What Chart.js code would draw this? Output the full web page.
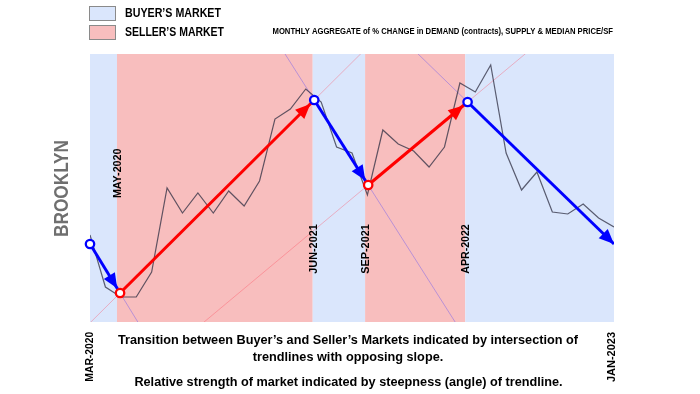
<!DOCTYPE html>
<html><head><meta charset="utf-8">
<script src="https://cdn.jsdelivr.net/npm/chart.js@4"></script>
<style>html,body{margin:0;padding:0;background:#fff}canvas{display:block}</style>
</head><body>
<canvas id="c" width="700" height="394"></canvas>
<script>
// ---- DATA ----
const months = ['MAR-2020','APR-2020','MAY-2020','JUN-2020','JUL-2020','AUG-2020','SEP-2020','OCT-2020','NOV-2020','DEC-2020',
  'JAN-2021','FEB-2021','MAR-2021','APR-2021','MAY-2021','JUN-2021','JUL-2021','AUG-2021','SEP-2021','OCT-2021','NOV-2021','DEC-2021',
  'JAN-2022','FEB-2022','MAR-2022','APR-2022','MAY-2022','JUN-2022','JUL-2022','AUG-2022','SEP-2022','OCT-2022','NOV-2022','DEC-2022',
  'JAN-2023'];
const aggregateIndex = [87,35,25,25,50,134,109,129,109,131,116,141,203,213,233,220,175,169,127,192,178,171,155,175,239,230,257,169,132,150,110,108,118,104,95];
const trendMonths = [0, 1.95, 14.55, 18.05, 24.5, 34];
const trendValues = [78, 29, 222, 137, 220, 78];
const trendMarkets = ['buyer','seller','buyer','seller','buyer'];
const transitionMonths = [1.75, 14.45, 17.85, 24.35];
const transitionLabels = ['MAY-2020','JUN-2021','SEP-2021','APR-2022'];
const edgeLabels = ['MAR-2020','JAN-2023'];
const legendLabels = {buyer:'BUYER\u2019S MARKET', seller:'SELLER\u2019S MARKET'};
const titleText = 'MONTHLY AGGREGATE of % CHANGE in DEMAND (contracts), SUPPLY & MEDIAN PRICE/SF';
const sideTitle = 'BROOKLYN';
const noteLines = ['Transition between Buyer\u2019s and Seller\u2019s Markets indicated by intersection of','trendlines with opposing slope.','Relative strength of market indicated by steepness (angle) of trendline.'];

// ---- STYLE ----
const FONT = '"Liberation Sans", Arial, sans-serif';
const arrowColors = {buyer:'#0000ff', seller:'#ff0000'};
const bandColors = {buyer:'rgb(218,230,252)', seller:'rgb(248,190,190)'};
const extColors = {buyer:'rgba(70,60,255,0.35)', seller:'rgba(255,70,90,0.35)'};

const datasets = [];
// extended trendlines (thin)
for (let s = 0; s < trendMarkets.length; s++) {
  const x0 = trendMonths[s], x1 = trendMonths[s+1], y0 = trendValues[s], y1 = trendValues[s+1];
  const k = (y1 - y0) / (x1 - x0);
  datasets.push({type:'line', label:'ext'+s, data:[{x:-30,y:y0+k*(-30-x0)},{x:70,y:y0+k*(70-x0)}],
    borderColor: extColors[trendMarkets[s]], borderWidth:1, pointRadius:0, order:4});
}
// monthly aggregate line
datasets.push({type:'line', label:'Aggregate', data: aggregateIndex.map((v,i)=>({x:i,y:v})),
  borderColor:'rgba(45,45,65,0.75)', borderWidth:1.2, pointRadius:0, tension:0, order:3});
// trend arrows
for (let s = 0; s < trendMarkets.length; s++) {
  datasets.push({type:'line', label:'trend'+s, _arrow:true, _last: s === trendMarkets.length-1,
    data:[{x:trendMonths[s],y:trendValues[s]},{x:trendMonths[s+1],y:trendValues[s+1]}],
    borderColor: arrowColors[trendMarkets[s]], borderWidth:3, pointRadius:0, order:2});
}
// pivot circles
datasets.push({type:'line', label:'pivots', showLine:false,
  data: trendMarkets.map((m,s)=>({x:trendMonths[s], y:trendValues[s]})),
  pointRadius:4.2, pointBorderWidth:2.3, pointBackgroundColor:'#ffffff',
  pointBorderColor: trendMarkets.map(m=>arrowColors[m]), order:0, clip:false});

function fitText(ctx, text, x, y, size, width, weight, align, sxFixed) {
  ctx.save();
  ctx.font = weight + ' ' + size + 'px ' + FONT;
  const w = ctx.measureText(text).width;
  const sx = sxFixed ? sxFixed : (width ? width / w : 1);
  ctx.translate(x, y);
  ctx.scale(sx, 1);
  ctx.textBaseline = 'middle';
  ctx.textAlign = align || 'left';
  ctx.fillText(text, 0, 0);
  ctx.restore();
  return sx;
}
function rotText(ctx, text, cx, cy, size, len, weight, color) {
  ctx.save();
  ctx.translate(cx, cy);
  ctx.rotate(-Math.PI/2);
  ctx.fillStyle = color || '#000';
  fitText(ctx, text, 0, 0, size, len, weight, 'center');
  ctx.restore();
}

const bandsPlugin = {
  id:'bands',
  beforeDatasetsDraw(chart) {
    const {ctx, chartArea:a, scales:{x}} = chart;
    const edges = [x.min, ...transitionMonths, x.max];
    ctx.save();
    for (let i = 0; i < edges.length-1; i++) {
      const l = x.getPixelForValue(edges[i]), r = x.getPixelForValue(edges[i+1]);
      ctx.fillStyle = bandColors[trendMarkets[i]];
      ctx.fillRect(l, a.top, r-l, a.bottom-a.top);
    }
    ctx.restore();
  }
};
const arrowPlugin = {
  id:'arrows',
  afterDatasetDraw(chart, args) {
    const ds = chart.data.datasets[args.index];
    if (!ds._arrow) return;
    const pts = args.meta.data;
    const p0 = pts[0], p1 = pts[1];
    const ang = Math.atan2(p1.y - p0.y, p1.x - p0.x);
    const gap = ds._last ? 0 : 5.5;
    const tx = p1.x - gap*Math.cos(ang), ty = p1.y - gap*Math.sin(ang);
    const L = 15, H = 6.5;
    const ctx = chart.ctx;
    ctx.save();
    ctx.fillStyle = ds.borderColor;
    ctx.beginPath();
    ctx.moveTo(tx, ty);
    ctx.lineTo(tx - L*Math.cos(ang) + H*Math.sin(ang), ty - L*Math.sin(ang) - H*Math.cos(ang));
    ctx.lineTo(tx - L*Math.cos(ang) - H*Math.sin(ang), ty - L*Math.sin(ang) + H*Math.cos(ang));
    ctx.closePath();
    ctx.fill();
    ctx.restore();
  }
};
const textPlugin = {
  id:'texts',
  afterDraw(chart) {
    const {ctx, scales:{x}} = chart;
    ctx.save();
    // legend
    const items = [['buyer', 13.5, 96], ['seller', 32.5, 99]];
    items.forEach(([k, cy, w]) => {
      ctx.fillStyle = bandColors[k];
      ctx.fillRect(89.5, cy-7, 26, 14);
      ctx.strokeStyle = '#8a8a8a'; ctx.lineWidth = 1;
      ctx.strokeRect(89.5, cy-7, 26, 14);
      ctx.fillStyle = '#000';
      fitText(ctx, legendLabels[k], 125, cy+0.5, 12.3, w, 'bold', 'left');
    });
    ctx.fillStyle = '#000';
    fitText(ctx, titleText, 272.5, 31.5, 8.6, 340.5, 'bold', 'left');
    // side title
    rotText(ctx, sideTitle, 63, 188.5, 19.5, 97, 'bold', '#6f6f6f');
    // transition labels
    transitionLabels.forEach((t, i) => {
      const cx = x.getPixelForValue(transitionMonths[i]) + 1;
      rotText(ctx, t, cx, i === 0 ? 173.3 : 249, 11.3, 49.5, 'bold', '#000');
    });
    // edge labels
    rotText(ctx, edgeLabels[0], x.getPixelForValue(0), 356.7, 11.3, 50, 'bold', '#000');
    rotText(ctx, edgeLabels[1], x.getPixelForValue(34) - 2, 357, 11.3, 50, 'bold', '#000');
    // notes
    ctx.fillStyle = '#000';
    const sx = fitText(ctx, noteLines[0], 348, 341, 12.2, 460, 'bold', 'center');
    fitText(ctx, noteLines[1], 348, 358, 12.2, 0, 'bold', 'center', sx);
    fitText(ctx, noteLines[2], 348.5, 383, 12.2, 0, 'bold', 'center', sx);
    ctx.restore();
  }
};

new Chart(document.getElementById('c'), {
  type:'line',
  data:{ datasets },
  options:{
    responsive:false, animation:false, devicePixelRatio:1,
    layout:{padding:{left:90, right:86, top:54, bottom:72}},
    scales:{
      x:{type:'linear', min:0, max:months.length-1, display:false},
      y:{type:'linear', min:0, max:268, display:false}
    },
    plugins:{legend:{display:false}, tooltip:{enabled:false}, title:{display:false}}
  },
  plugins:[bandsPlugin, arrowPlugin, textPlugin]
});
</script>
</body></html>
